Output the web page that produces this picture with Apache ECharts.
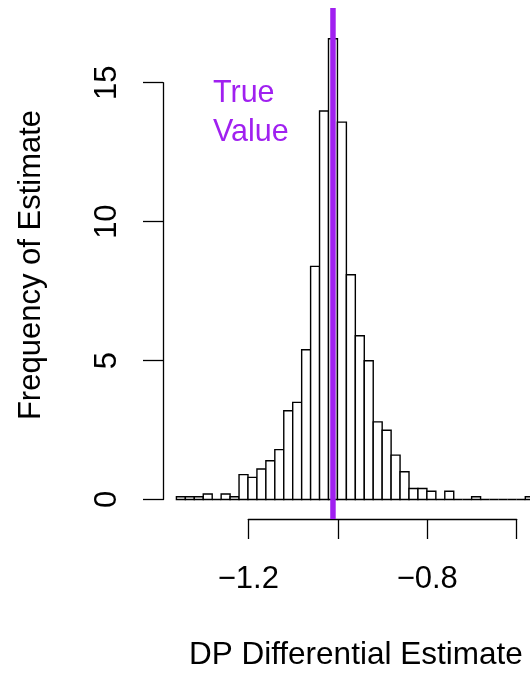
<!DOCTYPE html>
<html>
<head>
<meta charset="utf-8">
<script src="https://cdn.jsdelivr.net/npm/echarts@6/dist/echarts.min.js"></script>
<style>
  html, body { margin: 0; padding: 0; background: #fff; }
  #chart { width: 530px; height: 673px; }
</style>
</head>
<body>
<div id="chart"></div>
<script>
// histogram bins (left edges), width 0.02
const binLeft = [-1.36, -1.34, -1.32, -1.30, -1.28, -1.26, -1.24, -1.22, -1.20, -1.18,
                 -1.16, -1.14, -1.12, -1.10, -1.08, -1.06, -1.04, -1.02, -1.00, -0.98,
                 -0.96, -0.94, -0.92, -0.90, -0.88, -0.86, -0.84, -0.82, -0.80, -0.78,
                 -0.76, -0.74, -0.72, -0.70, -0.68, -0.66, -0.64, -0.62, -0.60, -0.58];
const binWidth = 0.02;
const freq = [0.1, 0.1, 0.1, 0.2, 0, 0.2, 0.1, 0.9, 0.8, 1.1,
              1.4, 1.8, 3.2, 3.5, 5.4, 8.4, 14.0, 16.6, 13.6, 8.1,
              5.9, 5.0, 2.8, 2.5, 1.6, 1.0, 0.4, 0.4, 0.3, 0,
              0.3, 0, 0, 0.1, 0, 0, 0, 0, 0, 0.1];
const trueValue = -1.01;
const xTickLabels = [-1.2, -0.8];   // R drops the -1.0 and -0.6 labels
const yTicks = [0, 5, 10, 15];

const FONT = "'Liberation Sans', Arial, sans-serif";
const PURPLE = '#A020F0';

const chart = echarts.init(document.getElementById('chart'));

// plot region runs off the right edge of the picture; keep the grid inside
// the canvas and let the last bar spill over (canvas clips it)
const option = {
  animation: false,
  backgroundColor: '#fff',
  grid: [
    { left: 163, top: 8, width: 367, height: 511 },        // plotting region
    { left: 163, top: 82.7, width: 300, height: 416.8 },   // y axis (0..15)
    { left: 248.3, top: 509, width: 268.4, height: 10 }    // x axis (-1.2..-0.6)
  ],
  xAxis: [
    { gridIndex: 0, type: 'value', min: -1.39, max: -0.5695, show: false },
    { gridIndex: 1, type: 'value', min: 0, max: 1, show: false },
    {
      gridIndex: 2, type: 'value', min: -1.2, max: -0.6, interval: 0.2,
      position: 'bottom',
      axisLine: { show: true, onZero: false, lineStyle: { color: '#000', width: 1.3 } },
      axisTick: { show: true, length: 20, lineStyle: { color: '#000', width: 1.3 } },
      splitLine: { show: false },
      axisLabel: {
        show: true, margin: 45, color: '#000', fontSize: 31, fontFamily: FONT,
        formatter: function (v) {
          const hit = xTickLabels.some(t => Math.abs(t - v) < 1e-6);
          return hit ? (v < 0 ? '\u2212' : '') + Math.abs(v).toFixed(1) : '';
        }
      }
    }
  ],
  yAxis: [
    { gridIndex: 0, type: 'value', min: -0.7, max: 17.71, show: false },
    {
      gridIndex: 1, type: 'value', min: yTicks[0], max: yTicks[yTicks.length - 1], interval: 5,
      axisLine: { show: true, onZero: false, lineStyle: { color: '#000', width: 1.3 } },
      axisTick: { show: true, length: 20, lineStyle: { color: '#000', width: 1.3 } },
      splitLine: { show: false },
      axisLabel: { show: true, rotate: 90, margin: 40, color: '#000', fontSize: 31, fontFamily: FONT }
    },
    { gridIndex: 2, type: 'value', show: false }
  ],
  series: [
    {
      type: 'custom',
      xAxisIndex: 0, yAxisIndex: 0,
      clip: false,
      data: binLeft.map((l, i) => [l, l + binWidth, freq[i]]),
      encode: { x: [0, 1], y: 2 },
      renderItem: function (params, api) {
        const p0 = api.coord([api.value(0), 0]);
        const p1 = api.coord([api.value(1), api.value(2)]);
        return {
          type: 'rect',
          shape: { x: p0[0], y: p1[1], width: p1[0] - p0[0], height: p0[1] - p1[1] },
          style: { fill: '#fff', stroke: '#000', lineWidth: 1.4 }
        };
      },
      z: 2
    },
    {
      type: 'line',
      xAxisIndex: 0, yAxisIndex: 0,
      data: [[trueValue, -0.7], [trueValue, 17.71]],
      symbol: 'none',
      lineStyle: { color: PURPLE, width: 5.5 },
      z: 5
    }
  ],
  graphic: [
    {
      type: 'text', x: 213, y: 113,
      style: {
        text: 'True\nValue', fill: PURPLE, font: '30.5px ' + FONT,
        lineHeight: 39.5, align: 'left', verticalAlign: 'middle'
      }
    },
    {
      type: 'text', x: 31, y: 265, rotation: Math.PI / 2,
      style: {
        text: 'Frequency of Estimate', fill: '#000', font: '31px ' + FONT,
        align: 'center', verticalAlign: 'middle'
      }
    },
    {
      type: 'text', x: 355.8, y: 655,
      style: {
        text: 'DP Differential Estimate', fill: '#000', font: '31.5px ' + FONT,
        align: 'center', verticalAlign: 'middle'
      }
    }
  ]
};

chart.setOption(option);
</script>
</body>
</html>
